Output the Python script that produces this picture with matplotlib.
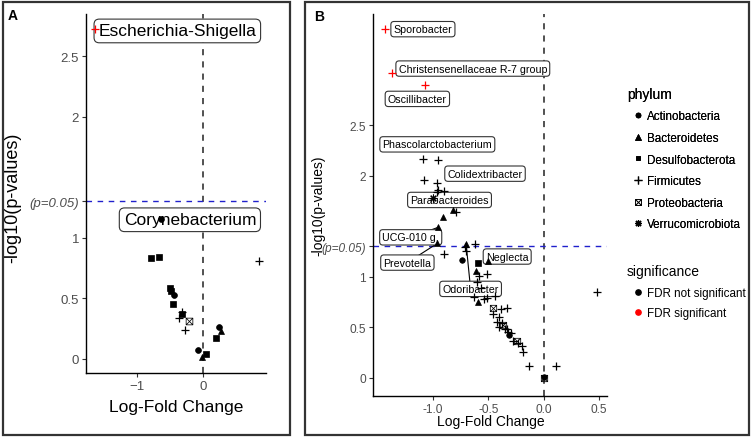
import matplotlib
matplotlib.use("Agg")
import matplotlib.pyplot as plt
import numpy as np
from matplotlib.path import Path
from matplotlib.lines import Line2D
from matplotlib.patches import Rectangle

plt.rcParams['font.family'] = ['Liberation Sans', 'DejaVu Sans']

# ---- data: panel A ----
lfc_a = [-1.64, -0.64, -0.79, -0.67, 0.84, -0.50, -0.48, -0.44, -0.45, -0.32,
         -0.32, -0.36, -0.22, -0.28, 0.24, 0.27, 0.19, -0.08, -0.02, 0.05]
nlp_a = [2.73, 1.16, 0.83, 0.84, 0.81, 0.59, 0.56, 0.53, 0.45, 0.37,
         0.39, 0.34, 0.31, 0.24, 0.26, 0.23, 0.17, 0.07, 0.02, 0.04]
phy_a = ['Firmicutes', 'Actinobacteria', 'Desulfobacterota', 'Desulfobacterota', 'Firmicutes',
         'Desulfobacterota', 'Desulfobacterota', 'Actinobacteria', 'Desulfobacterota', 'Desulfobacterota',
         'Firmicutes', 'Firmicutes', 'Proteobacteria', 'Firmicutes', 'Actinobacteria',
         'Bacteroidetes', 'Desulfobacterota', 'Actinobacteria', 'Bacteroidetes', 'Desulfobacterota']
sig_a = [True] + [False] * 19
genus_a = ['Escherichia-Shigella', 'Corynebacterium'] + [''] * 18

# ---- data: panel B ----
lfc_b = [-1.43, -1.37, -1.07, -1.09, -0.95, -1.08, -0.96, -0.95, -0.90, -0.96,
         -1.00, -0.79, -0.82, -0.91, -0.95, -0.96, -0.70, -0.62, -0.71, -0.90,
         -0.74, -0.70, -0.59, -0.50, -0.61, -0.58, -0.51, -0.60, -0.57, -0.63,
         -0.59, -0.54, -0.51, -0.44, -0.46, -0.39, -0.33, -0.46, -0.40, -0.42,
         -0.38, -0.37, -0.40, -0.35, -0.33, -0.32, -0.31, -0.30, -0.24, -0.28,
         -0.23, -0.20, -0.19, -0.13, 0.11, 0.48, 0.00, 0.00]
nlp_b = [3.45, 3.02, 2.90, 2.17, 2.16, 1.96, 1.93, 1.86, 1.85, 1.84,
         1.78, 1.64, 1.66, 1.59, 1.49, 1.33, 1.32, 1.32, 1.29, 1.23,
         1.17, 1.25, 1.14, 1.16, 1.06, 1.01, 1.03, 0.95, 0.89, 0.80,
         0.75, 0.78, 0.79, 0.81, 0.69, 0.68, 0.69, 0.63, 0.60, 0.55,
         0.54, 0.52, 0.50, 0.48, 0.48, 0.45, 0.42, 0.44, 0.36, 0.36,
         0.34, 0.31, 0.26, 0.12, 0.12, 0.85, 0.00, 0.01]
F, B_, A_, D_, P_, V_ = ('Firmicutes', 'Bacteroidetes', 'Actinobacteria',
                         'Desulfobacterota', 'Proteobacteria', 'Verrucomicrobiota')
phy_b = [F, F, F, F, F, F, F, F, F, F,
         V_, F, B_, B_, B_, B_, B_, F, F, F,
         A_, F, D_, B_, B_, F, F, F, F, F,
         B_, F, F, F, P_, F, F, F, F, F,
         F, P_, F, F, F, F, A_, F, P_, F,
         F, F, F, F, F, F, P_, A_]
sig_b = [True, True, True] + [False] * 55
genus_b = [''] * 58
for i, g in {0: 'Sporobacter', 1: 'Christensenellaceae R-7 group', 2: 'Oscillibacter',
             3: 'Phascolarctobacterium', 6: 'Colidextribacter', 10: 'Parabacteroides',
             14: 'UCG-010 g.', 15: 'Prevotella', 16: 'Odoribacter', 23: 'Neglecta'}.items():
    genus_b[i] = g

phyla = ['Actinobacteria', 'Bacteroidetes', 'Desulfobacterota', 'Firmicutes',
         'Proteobacteria', 'Verrucomicrobiota']

# square-cross marker (ggplot shape 7)
sq_cross = Path([(-1, -1), (1, -1), (1, 1), (-1, 1), (-1, -1),
                 (-1, -1), (1, 1), (-1, 1), (1, -1)],
                [1, 2, 2, 2, 2, 1, 2, 1, 2])
shape = {'Actinobacteria': ('o', True, 1.0, 0.5), 'Bacteroidetes': ('^', True, 1.1, 0.5),
         'Desulfobacterota': ('s', True, 0.95, 0.5), 'Firmicutes': ('+', False, 1.5, 0.9),
         'Proteobacteria': (sq_cross, False, 1.15, 0.55), 'Verrucomicrobiota': ((8, 2, 0), False, 1.4, 0.8)}

fig = plt.figure(figsize=(7.55, 4.39), dpi=100)


def draw_points(ax, xs, ys, phy, sig, base):
    for x, y, p, s in zip(xs, ys, phy, sig):
        m, filled, k, mew = shape[p]
        c = 'red' if s else 'black'
        ax.plot([x], [y], linestyle='none', marker=m, markersize=base * k,
                markerfacecolor=c if filled else 'none', markeredgecolor=c,
                markeredgewidth=mew, zorder=6)


def style_axes(ax, fs):
    for s in ['top', 'right']:
        ax.spines[s].set_visible(False)
    for s in ['left', 'bottom']:
        ax.spines[s].set_linewidth(1.0)
    ax.tick_params(direction='out', length=3, width=0.8, color='#333333',
                   labelcolor='#4D4D4D', labelsize=fs, pad=2)
    ax.axvline(0, color='#222222', linestyle=(0, (4, 4)), linewidth=1.1, zorder=1)
    ax.axhline(-np.log10(0.05), color='#2020CC', linestyle=(0, (4, 4)), linewidth=1.0, zorder=1)


def yticks(ax, fs):
    vals = [0, 0.5, 1, -np.log10(0.05), 2, 2.5]
    ax.set_yticks(vals)
    ax.set_yticklabels(['0', '0.5', '1', '(p=0.05)', '2', '2.5'])
    ax.get_yticklabels()[3].set_fontstyle('italic')


lbox = dict(boxstyle='round,pad=0.25,rounding_size=0.3', fc='white', ec='#333333', lw=0.8)

# ---- panel A ----
axA = fig.add_axes([86 / 755, 1 - 374 / 439, 180 / 755, 359 / 439])
axA.set_xlim(-1.77, 0.95)
axA.set_ylim(-0.116, 2.85)
style_axes(axA, 9.5)
yticks(axA, 9.5)
axA.set_xticks([-1, 0])
draw_points(axA, lfc_a, nlp_a, phy_a, sig_a, 4.2)
pos_a = {'Escherichia-Shigella': (-0.39, 2.71), 'Corynebacterium': (-0.20, 1.15)}
for g in genus_a:
    if g:
        axA.text(*pos_a[g], g, fontsize=12.5, ha='center', va='center', bbox=lbox, zorder=5)
axA.set_xlabel('Log-Fold Change', fontsize=12.5)
axA.set_ylabel('-log10(p-values)', fontsize=13)
axA.xaxis.set_label_coords(0.503, -0.092)
axA.xaxis.label.set_va('center')
axA.yaxis.set_label_coords(-0.406, 0.49)
axA.yaxis.label.set_va('center')

# ---- panel B ----
axB = fig.add_axes([373 / 755, 1 - 397 / 439, 234 / 755, 382 / 439])
axB.set_xlim(-1.54, 0.57)
axB.set_ylim(-0.18, 3.6)
style_axes(axB, 8.6)
yticks(axB, 8.6)
axB.set_xticks([-1.0, -0.5, 0.0, 0.5])
axB.set_xticklabels(['-1.0', '-0.5', '0.0', '0.5'])
draw_points(axB, lfc_b, nlp_b, phy_b, sig_b, 4.0)
pos_b = {'Sporobacter': (-1.09, 3.45), 'Christensenellaceae R-7 group': (-0.64, 3.06),
         'Oscillibacter': (-1.14, 2.76), 'Phascolarctobacterium': (-0.96, 2.31),
         'Colidextribacter': (-0.53, 2.02), 'Parabacteroides': (-0.85, 1.76),
         'UCG-010 g.': (-1.20, 1.39), 'Prevotella': (-1.23, 1.14),
         'Neglecta': (-0.33, 1.20), 'Odoribacter': (-0.66, 0.88)}
with_segment = ['UCG-010 g.', 'Prevotella', 'Odoribacter', 'Parabacteroides']
for x, y, g in zip(lfc_b, nlp_b, genus_b):
    if g:
        tx, ty = pos_b[g]
        if g in with_segment:
            axB.plot([tx, x], [ty, y], color='black', lw=0.8, zorder=2)
        axB.text(tx, ty, g, fontsize=7.7, ha='center', va='center', bbox=lbox, zorder=5)
axB.set_xlabel('Log-Fold Change', fontsize=10)
axB.set_ylabel('-log10(p-values)', fontsize=10)
axB.xaxis.set_label_coords(0.502, -0.065)
axB.xaxis.label.set_va('center')
axB.yaxis.set_label_coords(-0.235, 0.5)
axB.yaxis.label.set_va('center')

# ---- legends ----
h_phy = []
for p in phyla:
    m, filled, k, mew = shape[p]
    h_phy.append(Line2D([], [], linestyle='none', marker=m, markersize=3.6 * k,
                        markerfacecolor='black' if filled else 'none',
                        markeredgecolor='black', markeredgewidth=mew))
leg1 = fig.legend(h_phy, phyla, title='phylum', loc='upper left',
                  bbox_to_anchor=(621 / 755, 1 - 82 / 439), frameon=False, fontsize=8.4,
                  title_fontsize=10, handlelength=1.9, handletextpad=-0.2,
                  labelspacing=0.82, borderpad=0, alignment='left')
h_sig = [Line2D([], [], linestyle='none', marker='o', markersize=3.8, color=c) for c in ['black', 'red']]
leg2 = fig.legend(h_sig, ['FDR not significant', 'FDR significant'], title='significance',
                  loc='upper left', bbox_to_anchor=(621 / 755, 1 - 259 / 439), frameon=False,
                  fontsize=8.4, title_fontsize=10, handlelength=1.9, handletextpad=-0.2,
                  labelspacing=0.75, borderpad=0, alignment='left')
fig.add_artist(leg1)

# ---- panel frames and letters ----
fig.patches.append(Rectangle((3 / 755, 3 / 439), 287 / 755, 433 / 439, transform=fig.transFigure,
                             fill=False, ec='#333333', lw=1.6))
fig.patches.append(Rectangle((305 / 755, 3 / 439), 444 / 755, 433 / 439, transform=fig.transFigure,
                             fill=False, ec='#333333', lw=1.6))
fig.text(13 / 755, 1 - 16 / 439, 'A', fontsize=10, fontweight='bold', ha='center', va='center')
fig.text(319 / 755, 1 - 17 / 439, 'B', fontsize=10, fontweight='bold', ha='center', va='center')

fig.savefig('out.png', dpi=100)
